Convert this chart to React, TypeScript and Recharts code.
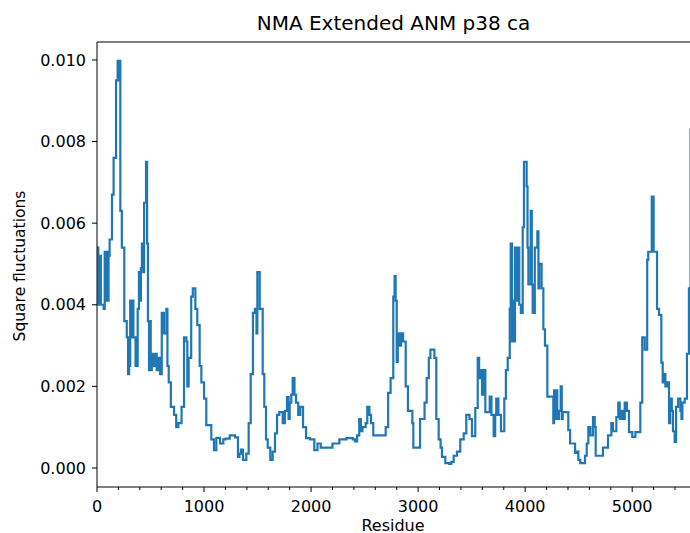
import { LineChart, Line, XAxis, YAxis, ReferenceLine } from "recharts";

// residue index where each step starts, and the square fluctuation from there on
const residues = [
  0, 12, 28, 36, 62, 72, 82, 92, 100, 108, 118, 140, 155, 178, 193, 203, 210, 218, 232, 255,
  278, 290, 300, 310, 320, 330, 340, 360, 380, 392, 400, 410, 420, 432, 440, 458, 468, 476, 486, 494,
  502, 512, 528, 545, 558, 572, 590, 605, 625, 648, 658, 670, 690, 720, 740, 760, 790, 813, 835, 844,
  856, 880, 895, 919, 937, 959, 975, 1000, 1021, 1068, 1093, 1115, 1150, 1180, 1200, 1240, 1290, 1317, 1330, 1345,
  1364, 1395, 1417, 1436, 1457, 1475, 1490, 1498, 1520, 1548, 1563, 1579, 1595, 1619, 1641, 1663, 1682, 1703, 1735, 1755,
  1775, 1790, 1800, 1815, 1828, 1845, 1859, 1880, 1899, 1925, 1953, 1990, 2030, 2060, 2090, 2139, 2200, 2264, 2330, 2390,
  2410, 2430, 2450, 2465, 2480, 2510, 2525, 2545, 2560, 2581, 2630, 2660, 2697, 2720, 2743, 2768, 2780, 2790, 2800, 2810,
  2821, 2840, 2860, 2884, 2905, 2946, 2955, 3018, 3060, 3080, 3100, 3115, 3152, 3170, 3192, 3210, 3223, 3254, 3290, 3310,
  3332, 3363, 3394, 3426, 3450, 3480, 3503, 3534, 3557, 3570, 3580, 3597, 3610, 3628, 3669, 3685, 3706, 3720, 3730, 3750,
  3774, 3805, 3820, 3837, 3856, 3865, 3877, 3883, 3895, 3905, 3920, 3935, 3945, 3960, 3977, 3989, 4014, 4022, 4030, 4052,
  4062, 4070, 4090, 4114, 4124, 4132, 4154, 4170, 4185, 4207, 4263, 4270, 4279, 4290, 4300, 4315, 4332, 4342, 4351, 4403,
  4420, 4466, 4480, 4497, 4515, 4559, 4575, 4590, 4610, 4634, 4650, 4659, 4727, 4774, 4805, 4820, 4852, 4870, 4883, 4900,
  4915, 4930, 4950, 4970, 5001, 5030, 5076, 5094, 5117, 5140, 5150, 5183, 5200, 5232, 5250, 5272, 5285, 5294, 5310, 5330,
  5344, 5355, 5370, 5381, 5397, 5410, 5428, 5450, 5460, 5469, 5491, 5512, 5530, 5545, 5560,
];

const fluctuations = [
  0.0054, 0.004, 0.0052, 0.004, 0.0039, 0.0053, 0.0041, 0.0053, 0.0041, 0.0052, 0.0056, 0.0067, 0.0076, 0.0095, 0.00998, 0.0095, 0.00998, 0.0063, 0.0054, 0.0036,
  0.0032, 0.0023, 0.0025, 0.0041, 0.0032, 0.0041, 0.0032, 0.0025, 0.0039, 0.0048, 0.0041, 0.0049, 0.0055, 0.0048, 0.0065, 0.0075, 0.0055, 0.0036, 0.0024, 0.0036,
  0.0024, 0.0028, 0.0025, 0.0028, 0.0024, 0.0027, 0.0023, 0.0038, 0.0033, 0.0039, 0.0025, 0.0021, 0.0015, 0.0013, 0.001, 0.0011, 0.0015, 0.0032, 0.0031, 0.002,
  0.0027, 0.0042, 0.0044, 0.0039, 0.0035, 0.0025, 0.0021, 0.0017, 0.00105, 0.0007, 0.00044, 0.00074, 0.0006, 0.0007, 0.00072, 0.0008, 0.00075, 0.00027, 0.00035, 0.00045,
  0.0002, 0.00035, 0.0011, 0.0023, 0.0038, 0.0039, 0.0033, 0.0048, 0.0039, 0.0023, 0.0015, 0.0007, 0.0005, 0.0002, 0.0004, 0.00085, 0.0013, 0.00137, 0.0011, 0.0014,
  0.00174, 0.0012, 0.0016, 0.0018, 0.0022, 0.0018, 0.0016, 0.0013, 0.0015, 0.001, 0.00073, 0.0007, 0.00044, 0.0006, 0.0005, 0.0005, 0.0006, 0.0007, 0.00073, 0.0007,
  0.00065, 0.0008, 0.0012, 0.0009, 0.001, 0.0011, 0.0015, 0.0013, 0.0011, 0.0008, 0.0008, 0.0008, 0.001, 0.00184, 0.0022, 0.0042, 0.0047, 0.0041, 0.0026, 0.0033,
  0.003, 0.0033, 0.0031, 0.002, 0.0014, 0.0011, 0.0005, 0.0012, 0.0016, 0.0022, 0.0027, 0.0029, 0.0027, 0.0012, 0.0007, 0.0005, 0.00027, 0.00012, 0.0001, 0.00015,
  0.0003, 0.0004, 0.0007, 0.00085, 0.0013, 0.0012, 0.00078, 0.00147, 0.0027, 0.0022, 0.0024, 0.0018, 0.0024, 0.00137, 0.00175, 0.0013, 0.00078, 0.0013, 0.0017, 0.0013,
  0.0009, 0.0017, 0.0024, 0.0027, 0.0039, 0.0055, 0.0031, 0.0041, 0.0031, 0.0054, 0.0041, 0.0054, 0.004, 0.0038, 0.0059, 0.0075, 0.0069, 0.0054, 0.0045, 0.0063,
  0.0045, 0.0038, 0.0054, 0.0058, 0.0044, 0.005, 0.0044, 0.0034, 0.003, 0.00175, 0.0011, 0.0019, 0.0012, 0.0019, 0.0012, 0.0014, 0.002, 0.0012, 0.00137, 0.00093,
  0.0006, 0.00037, 0.0004, 0.0002, 0.00012, 0.0003, 0.0006, 0.001, 0.0008, 0.00125, 0.001, 0.0003, 0.0005, 0.0008, 0.0011, 0.0009, 0.00125, 0.0016, 0.0012, 0.0014,
  0.0012, 0.0016, 0.0014, 0.00088, 0.00076, 0.00088, 0.0016, 0.0032, 0.0029, 0.0051, 0.0053, 0.00665, 0.0053, 0.0039, 0.00375, 0.00258, 0.0021, 0.0023, 0.002, 0.0021,
  0.0011, 0.0017, 0.0014, 0.0009, 0.00064, 0.0015, 0.0017, 0.0014, 0.0012, 0.0016, 0.0017, 0.0028, 0.0044, 0.0083, 0.0083,
];

const xTicks = [0, 200, 400, 600, 800, 1000, 1200, 1400, 1600, 1800, 2000, 2200, 2400, 2600, 2800, 3000, 3200, 3400, 3600, 3800, 4000, 4200, 4400, 4600, 4800, 5000, 5200, 5400];
const yTicks = [0, 0.002, 0.004, 0.006, 0.008, 0.01];

const rows = residues.map((r, i) => ({ residue: r, value: fluctuations[i] }));

const font = "'DejaVu Sans', sans-serif";
const yTop = 0.01044;

// matplotlib-ish ticks: long ones with a label every 1000, short ones between
function ResidueTick(props: any) {
  const { x, y, payload } = props;
  const major = payload.value % 1000 === 0;
  const len = major ? 5 : 3;
  return (
    <g>
      <line x1={x} x2={x} y1={y} y2={y + len} stroke="#000" strokeWidth={1} />
      {major && (
        <text x={x} y={y + 13} dy="0.75em" textAnchor="middle" fontSize={16} fontFamily={font} fill="#000">
          {payload.value}
        </text>
      )}
    </g>
  );
}

const XLabel = () => (
  <text x={393} y={525} textAnchor="middle" dominantBaseline="central" fontSize={16} fontFamily={font} fill="#000">
    Residue
  </text>
);

const YLabel = () => (
  <text x={20} y={266} transform="rotate(-90 20 266)" textAnchor="middle" dominantBaseline="central" fontSize={15.5} fontFamily={font} fill="#000">
    Square fluctuations
  </text>
);

export default function App() {
  return (
    <div style={{ position: "absolute", left: 0, top: 0, width: 690, height: 533, overflow: "hidden", background: "#fff" }}>
      <div
        style={{
          position: "absolute",
          left: 97,
          width: 593,
          top: 11,
          lineHeight: "24px",
          textAlign: "center",
          fontFamily: font,
          fontSize: 20,
          color: "#000",
        }}
      >
        NMA Extended ANM p38 ca
      </div>
      <LineChart width={690} height={533} data={rows} margin={{ top: 42, right: 0, bottom: 0, left: 0 }}>
        <XAxis
          dataKey="residue"
          type="number"
          domain={[0, 5540]}
          ticks={xTicks}
          interval={0}
          height={46}
          tickSize={0}
          tickMargin={0}
          tickLine={false}
          tick={<ResidueTick />}
          axisLine={{ stroke: "#000" }}
          allowDataOverflow
          label={<XLabel />}
        />
        <YAxis
          type="number"
          domain={[-0.000466, yTop]}
          ticks={yTicks}
          interval={0}
          width={97}
          tickSize={5}
          tickMargin={6}
          tickLine={{ stroke: "#000" }}
          axisLine={{ stroke: "#000" }}
          allowDataOverflow
          tickFormatter={(v: number) => v.toFixed(3)}
          tick={{ fontSize: 16, fontFamily: font, fill: "#000" }}
          label={<YLabel />}
        />
        <ReferenceLine y={yTop} stroke="#000" strokeWidth={1} />
        <Line
          type="stepAfter"
          dataKey="value"
          stroke="#1f77b4"
          strokeWidth={2.2}
          dot={false}
          isAnimationActive={false}
        />
      </LineChart>
    </div>
  );
}
